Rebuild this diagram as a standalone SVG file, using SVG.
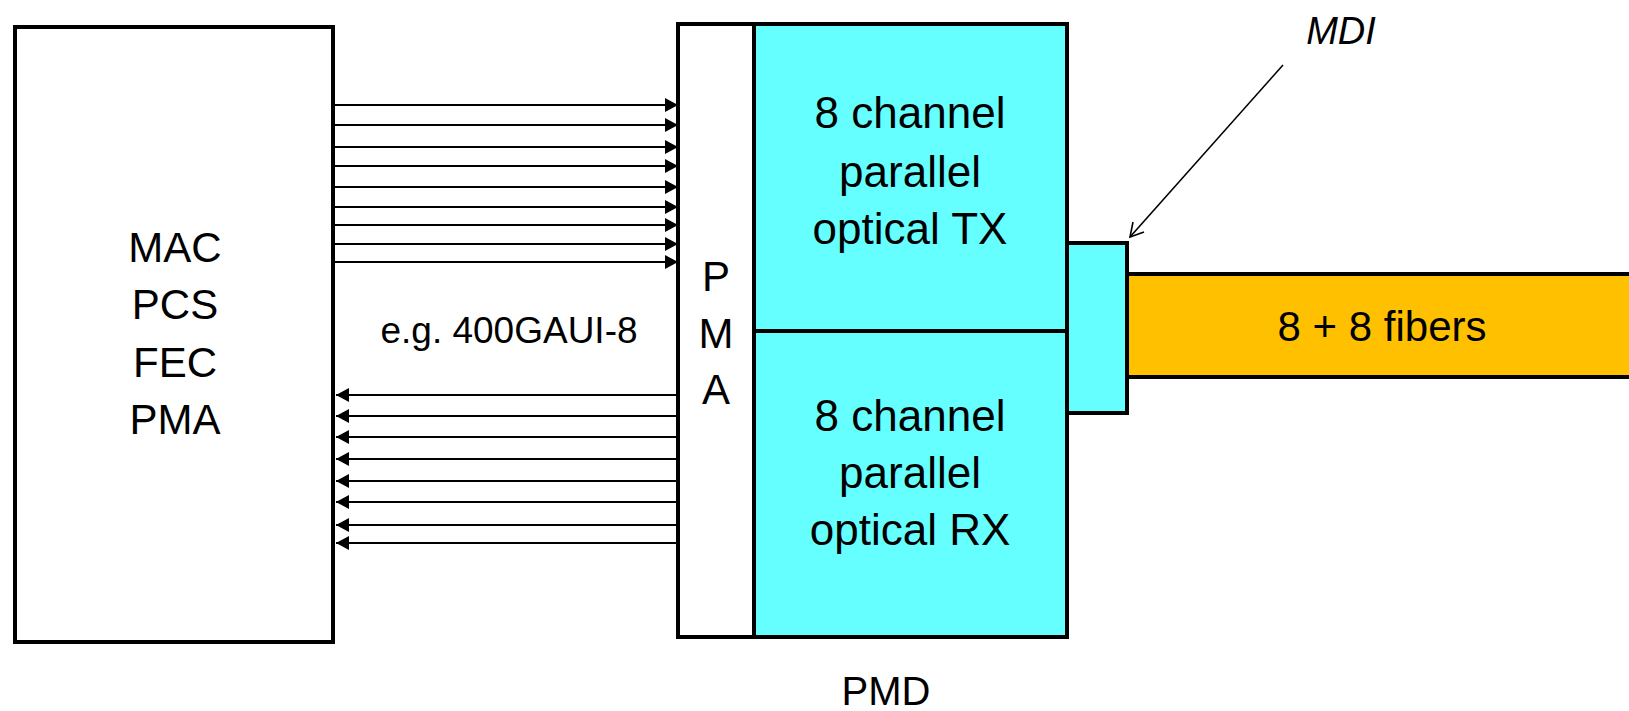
<svg xmlns="http://www.w3.org/2000/svg" width="1629" height="711" viewBox="0 0 1629 711">
<style>
.box{stroke:#000;stroke-width:4;stroke-linejoin:miter}
.t{font-family:"Liberation Sans",Arial,sans-serif;fill:#000;text-anchor:middle}
.w{stroke:#000;stroke-width:2;fill:none}
</style>
<defs>
<marker id="ah" markerUnits="userSpaceOnUse" markerWidth="14" markerHeight="14" refX="13" refY="7" orient="auto">
<path d="M0,0 L13,7 L0,14 z" fill="#000"/>
</marker>
</defs>
<rect width="1629" height="711" fill="#fff"/>
<g id="mac">
<rect class="box" x="15" y="27" width="318" height="615" fill="#fff"/>
<text class="t" font-size="42" x="175" y="262">MAC</text>
<text class="t" font-size="42" x="175" y="319">PCS</text>
<text class="t" font-size="42" x="175" y="377">FEC</text>
<text class="t" font-size="42" x="175" y="434">PMA</text>
</g>
<g id="connectors">
<g class="w" marker-end="url(#ah)">
<line x1="335" y1="105" x2="678" y2="105"/>
<line x1="335" y1="125" x2="678" y2="125"/>
<line x1="335" y1="147" x2="678" y2="147"/>
<line x1="335" y1="166" x2="678" y2="166"/>
<line x1="335" y1="187" x2="678" y2="187"/>
<line x1="335" y1="207" x2="678" y2="207"/>
<line x1="335" y1="225" x2="678" y2="225"/>
<line x1="335" y1="244" x2="678" y2="244"/>
<line x1="335" y1="262" x2="678" y2="262"/>
<line x1="678" y1="395" x2="336" y2="395"/>
<line x1="678" y1="416" x2="336" y2="416"/>
<line x1="678" y1="437" x2="336" y2="437"/>
<line x1="678" y1="459" x2="336" y2="459"/>
<line x1="678" y1="481" x2="336" y2="481"/>
<line x1="678" y1="502" x2="336" y2="502"/>
<line x1="678" y1="525" x2="336" y2="525"/>
<line x1="678" y1="543" x2="336" y2="543"/>
</g>
<g id="mdi-pointer" stroke="#000" stroke-width="1.6" fill="none">
<line x1="1283" y1="65" x2="1130" y2="237"/>
<polyline points="1133,222 1130,237 1144,232"/>
</g>
</g>
<text class="t" font-size="37" x="509" y="343">e.g. 400GAUI-8</text>
<g id="pma">
<rect class="box" x="678" y="24" width="76" height="613" fill="#fff"/>
<text class="t" font-size="42" x="716" y="291">P</text>
<text class="t" font-size="42" x="716" y="348">M</text>
<text class="t" font-size="42" x="716" y="404">A</text>
</g>
<g id="tx">
<rect class="box" x="754" y="24" width="313" height="307" fill="#66FFFF"/>
<text class="t" font-size="44" x="910" y="128">8 channel</text>
<text class="t" font-size="44" x="910" y="187">parallel</text>
<text class="t" font-size="44" x="910" y="244">optical TX</text>
</g>
<g id="rx">
<rect class="box" x="754" y="331" width="313" height="306" fill="#66FFFF"/>
<text class="t" font-size="44" x="910" y="431">8 channel</text>
<text class="t" font-size="44" x="910" y="488">parallel</text>
<text class="t" font-size="44" x="910" y="545">optical RX</text>
</g>
<g id="fibers">
<rect class="box" x="1127" y="274" width="520" height="103" fill="#FFC000"/>
<text class="t" font-size="42" x="1382" y="341">8 + 8 fibers</text>
</g>
<g id="mdi-connector">
<rect class="box" x="1067" y="243" width="60" height="170" fill="#66FFFF"/>
</g>
<g id="mdi-label">
<text class="t" font-size="38" font-style="italic" x="1341" y="44">MDI</text>
</g>
<g id="pmd-label">
<text class="t" font-size="40" x="886" y="705">PMD</text>
</g>
</svg>
